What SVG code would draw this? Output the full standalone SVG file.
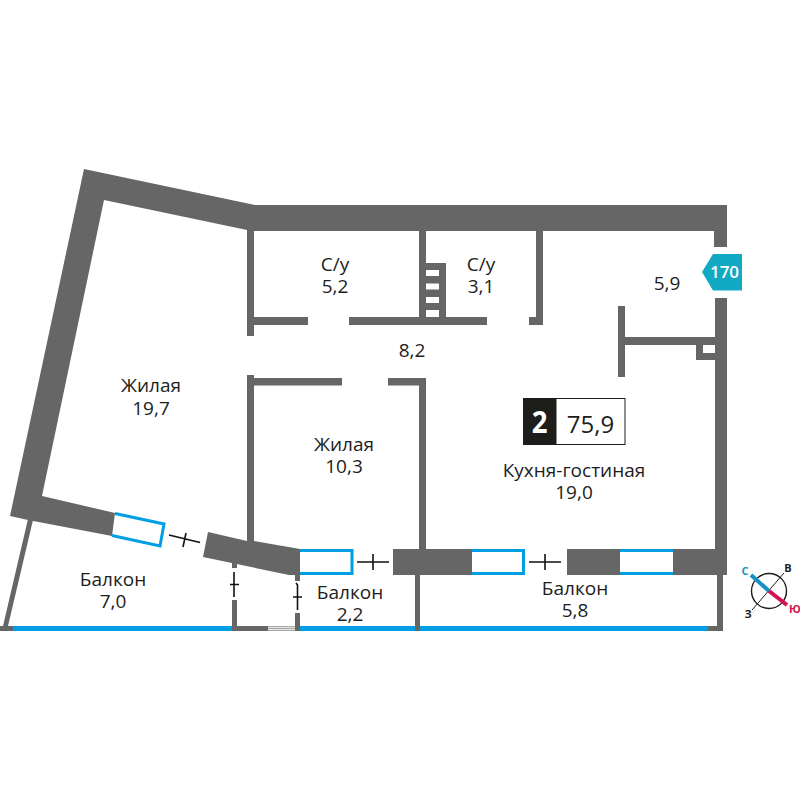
<svg xmlns="http://www.w3.org/2000/svg" width="800" height="800" viewBox="0 0 800 800">
<style>
.w{fill:#666666}
.g{fill:none;stroke:#009fe3;stroke-width:3}
.b{fill:#009fe3}
.k{fill:none;stroke:#111;stroke-width:1.6}
text{font-family:"Open Sans","Noto Sans",sans-serif;fill:#1d1d1b;text-anchor:middle}
.l{font-size:19px}
</style>
<rect width="800" height="800" fill="#fff"/>
<g id="walls">
<path class="w" d="M84 169L255 205H727V247H714V231H254V317H308V325H254V336H247V230L104 200L42 496L115 513L112 536L28 520L10 516Z"/>
<path class="w" d="M349 317H419V231H426V263H446V317H487V325H349Z"/>
<path d="M426 270V276H439V270ZM426 283.500V289.500H439V283.500ZM426 297V303H439V297ZM426 310V317H439V310Z" fill="#fff"/>
<path class="w" d="M529 317H536V231H543V325H529Z"/>
<path class="w" d="M247 375H254V378H342V385.500H254V541L300 549V575H289L203 557L208 532L247 541Z"/>
<path class="w" d="M388 378H426V549H419V385.500H388Z"/>
<rect class="w" x="393" y="549" width="79" height="26"/>
<rect class="w" x="567" y="549" width="53" height="26"/>
<rect class="w" x="673" y="549" width="54" height="26"/>
<rect class="w" x="715" y="298" width="12" height="251"/>
<path class="w" d="M618 306H625V337H715V345H703V353H715V360H696V345H625V377H618Z"/>
<path class="w" d="M28 519L33 520L8 626H13V631H0V626H3Z"/>
<rect class="w" x="415" y="575" width="5" height="56"/>
<path class="w" d="M717 575H723V631H708V626H717Z"/>
<rect class="w" x="232" y="563" width="5" height="5"/>
<rect class="w" x="232" y="600" width="5" height="31"/>
<rect class="w" x="295" y="575" width="5" height="6"/>
<rect class="w" x="295" y="613" width="5" height="18"/>
<rect class="w" x="237" y="626" width="31" height="5"/>
<rect x="268" y="626" width="27" height="5" fill="#a8a8a8"/>
<path d="M268 627.500H295M268 629.500H295" stroke="#f2f2f2" stroke-width=".8"/>
</g>
<g id="windows">
<path class="g" d="M115 513.500L164 524L160 546L112 535.500"/>
<path class="g" d="M300 550.500H352V573.500H300"/>
<path class="g" d="M472 550.500H523.500V573.500H472"/>
<path class="g" d="M620 550.500H673M620 573.500H673"/>
<rect class="b" x="13" y="626" width="219" height="5"/>
<rect class="b" x="300" y="626" width="115" height="5"/>
<rect class="b" x="420" y="626" width="288" height="5"/>
</g>
<g id="connectors">
<path class="k" d="M169 535L200 542.500M186 533L183 547"/>
<path class="k" d="M357 562H389M373 554V570"/>
<path class="k" d="M529 562H561M545 554V570"/>
<path class="k" d="M234 572V597M230 584.500H239"/>
<path class="k" d="M296 583L297.500 585V610M293 597H302"/>
</g>
<g id="room-labels">
<text class="l" x="151" y="392">Жилая</text><text class="l" x="151" y="415">19,7</text>
<text class="l" x="335" y="271">С/у</text><text class="l" x="335" y="293">5,2</text>
<text class="l" x="481" y="271">С/у</text><text class="l" x="481" y="293">3,1</text>
<text class="l" x="667" y="290">5,9</text>
<text class="l" x="412" y="357">8,2</text>
<text class="l" x="344" y="451">Жилая</text><text class="l" x="344" y="473">10,3</text>
<text class="l" x="574" y="477">Кухня-гостиная</text><text class="l" x="574" y="499">19,0</text>
<text class="l" x="113" y="586">Балкон</text><text class="l" x="113" y="608">7,0</text>
<text class="l" x="350" y="599">Балкон</text><text class="l" x="350" y="621">2,2</text>
<text class="l" x="575" y="595">Балкон</text><text class="l" x="575" y="617">5,8</text>
</g>
<g id="badge-170">
<path fill="#12a9c4" d="M702 272L713 254H742V290.500H713Z"/>
<text x="724.500" y="278" font-size="17" font-weight="600" style="fill:#fff">170</text>
</g>
<g id="badge-area">
<rect x="523" y="398" width="33" height="47" fill="#1d1d1b"/>
<rect x="556" y="398.500" width="69" height="46" fill="#fff" stroke="#1d1d1b"/>
<text x="0" y="0" font-size="29" font-weight="700" transform="translate(539.500 433) scale(.95 1.05)" style="fill:#fff">2</text>
<text x="590.500" y="433" font-size="24">75,9</text>
</g>
<g id="compass">
<circle cx="769" cy="591" r="17.500" fill="none" stroke="#1d1d1b" stroke-width="1.400"/>
<path d="M752 610L784 573" stroke="#1d1d1b" stroke-width="1"/>
<path d="M751 575L769 591" stroke="#1591c4" stroke-width="4"/>
<path d="M769 591L787 605" stroke="#d4124f" stroke-width="4"/>
<text x="745" y="575" font-size="11" font-weight="700" style="fill:#1591c4">С</text>
<text x="788" y="572" font-size="11" font-weight="700">В</text>
<text x="748" y="618" font-size="11" font-weight="700">З</text>
<text x="795" y="613" font-size="11" font-weight="700" style="fill:#d4124f">Ю</text>
</g>
</svg>
